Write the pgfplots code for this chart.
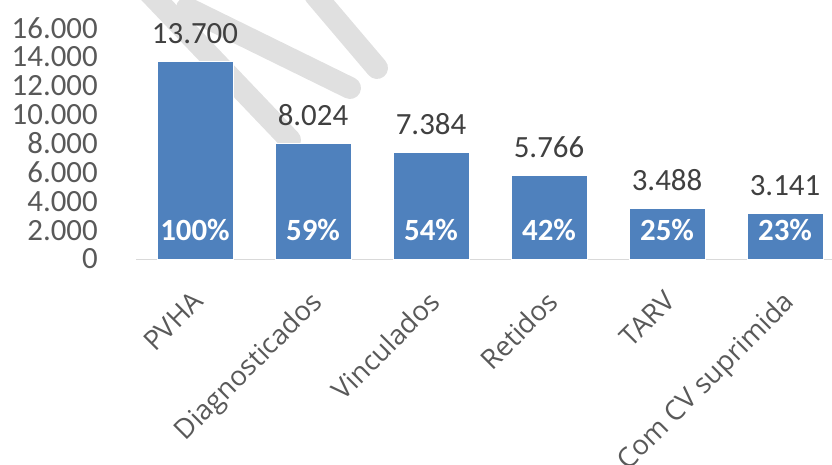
\documentclass[border=0pt]{standalone}
\usepackage{pgfplots}
\pgfplotsset{compat=1.18}
\usepackage{fontspec}
\setmainfont{Carlito}
\newfontfamily\labelfont{Open Sans}
\definecolor{barblue}{HTML}{4F81BD}
\definecolor{ticktext}{HTML}{595959}
\definecolor{valtext}{HTML}{404040}
\definecolor{wm}{HTML}{E0E0E0}
\definecolor{axisline}{HTML}{D9D9D9}
\begin{document}
\begin{tikzpicture}
\useasboundingbox (0bp,0bp) rectangle (832bp,465bp);
\begin{scope}[draw=wm, line width=22bp, line cap=round]
\draw (145bp,477bp) -- (290bp,325bp);
\draw (187bp,457bp) -- (350bp,377bp);
\draw (315bp,470bp) -- (377bp,397bp);
\end{scope}
\begin{axis}[
  at={(136bp,206bp)}, anchor=south west,
  scale only axis, width=696bp, height=231bp,
  xmin=-0.5, xmax=5.398, ymin=0, ymax=16000,
  clip=false,
  axis x line*=bottom, axis y line*=left,
  x axis line style={draw=axisline, line width=1bp, -},
  y axis line style={draw=none},
  major tick length=0pt,
  scaled y ticks=false,
  xtick={0,1,2,3,4,5},
  xticklabels={PVHA,Diagnosticados,Vinculados,Retidos,TARV,Com CV suprimida},
  ytick={0,2000,4000,6000,8000,10000,12000,14000,16000},
  yticklabel style={/pgf/number format/fixed, /pgf/number format/1000 sep={.}, /pgf/number format/assume math mode=true,
    font=\fontsize{31}{31}\selectfont, text=ticktext, anchor=east, inner sep=0pt, xshift=-38bp},
  xticklabel style={yshift=-30bp, xshift=-4bp, rotate=45, anchor=north east, inner sep=0pt, font=\labelfont\fontsize{27.5}{27.5}\selectfont, text=ticktext},
]
\addplot[ybar, bar width=0.644, fill=barblue, draw=white, line width=0.6bp,
  nodes near coords, point meta=explicit symbolic,
  nodes near coords style={anchor=base, yshift=18bp, inner sep=0pt, font=\fontsize{31}{31}\selectfont, text=valtext}]
  coordinates {(0,13700)[13.700] (1,8024)[8.024] (2,7384)[7.384] (3,5766)[5.766] (4,3488)[3.488] (5,3141)[3.141]};
\addplot[draw=none,
  nodes near coords, point meta=explicit symbolic,
  nodes near coords style={anchor=center, inner sep=0pt, font=\bfseries\fontsize{31}{31}\selectfont, text=white}]
  coordinates {(0,2000)[100\%] (1,2000)[59\%] (2,2000)[54\%] (3,2000)[42\%] (4,2000)[25\%] (5,2000)[23\%]};
\end{axis}
\end{tikzpicture}
\end{document}
